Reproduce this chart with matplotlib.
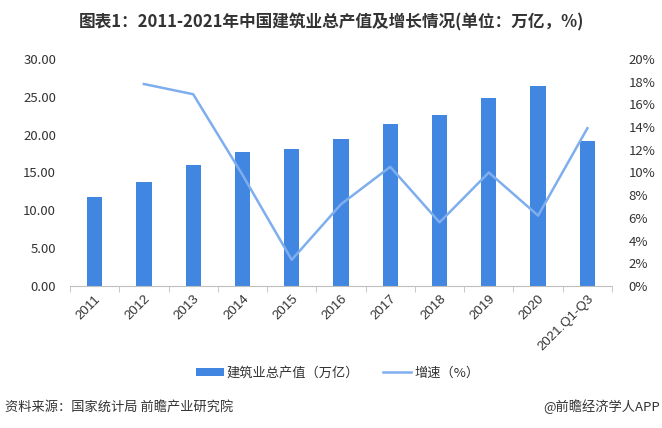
import numpy as np
import matplotlib
matplotlib.use("Agg")
import matplotlib.pyplot as plt
from matplotlib.ticker import FixedLocator

plt.rcParams['font.family'] = ['Noto Sans CJK SC', 'DejaVu Sans']

categories = ['2011', '2012', '2013', '2014', '2015', '2016', '2017', '2018',
              '2019', '2020', '2021.Q1-Q3']
output_value = [11.7, 13.7, 16.0, 17.7, 18.1, 19.4, 21.4, 22.6, 24.8, 26.4, 19.2]
growth = [np.nan, 17.8, 16.9, 9.8, 2.3, 7.2, 10.5, 5.6, 10.0, 6.2, 13.9]
left_ticks = [0, 5, 10, 15, 20, 25, 30]
right_ticks = list(range(0, 21, 2))

bar_color = '#4186E0'
line_color = '#7EAEEE'
text_color = '#333333'

fig = plt.figure(figsize=(6.62, 4.28), dpi=100)
ax = fig.add_axes([0.1057, 0.332, 0.8188, 0.530])
x = np.arange(len(categories))

ax.bar(x, output_value, width=0.31, color=bar_color, zorder=2,
       label='建筑业总产值（万亿）')
ax.set_xlim(-0.5, len(categories) - 0.5)
ax.set_ylim(0, 30)
ax.set_yticks(left_ticks)
ax.set_yticklabels(['%.2f' % v for v in left_ticks])

ax2 = ax.twinx()
ax2.plot(x, growth, color=line_color, lw=1.8, zorder=3, label='增速（%）')
ax2.set_ylim(0, 20)
ax2.set_yticks(right_ticks)
ax2.set_yticklabels(['%d%%' % v for v in right_ticks])

for a in (ax, ax2):
    for s in a.spines.values():
        s.set_visible(False)
    a.tick_params(axis='y', length=0, labelsize=9.5, labelcolor=text_color)
ax.tick_params(axis='y', pad=10)
ax2.tick_params(axis='y', pad=12)

ax.spines['bottom'].set_visible(True)
ax.spines['bottom'].set_color('#BFBFBF')
ax.set_xticks(x)
ax.set_xticklabels(categories, rotation=45, ha='right', rotation_mode='anchor',
                   fontsize=9.5, color=text_color, family=['Liberation Sans', 'DejaVu Sans'])
ax.tick_params(axis='x', length=0, pad=5)
ax.xaxis.set_minor_locator(FixedLocator(np.arange(-0.5, len(categories), 1)))
ax.tick_params(axis='x', which='minor', length=4, color='#BFBFBF', direction='out')

h1, l1 = ax.get_legend_handles_labels()
h2, l2 = ax2.get_legend_handles_labels()
fig.legend(h1 + h2, l1 + l2, loc='center', bbox_to_anchor=(0.51, 0.128), ncol=2,
           frameon=False, fontsize=9.5, handlelength=2.1, handleheight=0.6,
           columnspacing=1.8, handletextpad=0.25, labelcolor=text_color)

fig.text(0.5, 0.948, '图表1：2011-2021年中国建筑业总产值及增长情况(单位：万亿，%)',
         ha='center', va='center', fontsize=12, fontweight='bold', color=text_color)
fig.text(0.008, 0.049, '资料来源：国家统计局 前瞻产业研究院', ha='left', va='center',
         fontsize=9.5, color=text_color)
fig.text(0.997, 0.049, '@前瞻经济学人APP', ha='right', va='center',
         fontsize=9.5, color=text_color)

fig.savefig('out.png', dpi=100, facecolor='white')
